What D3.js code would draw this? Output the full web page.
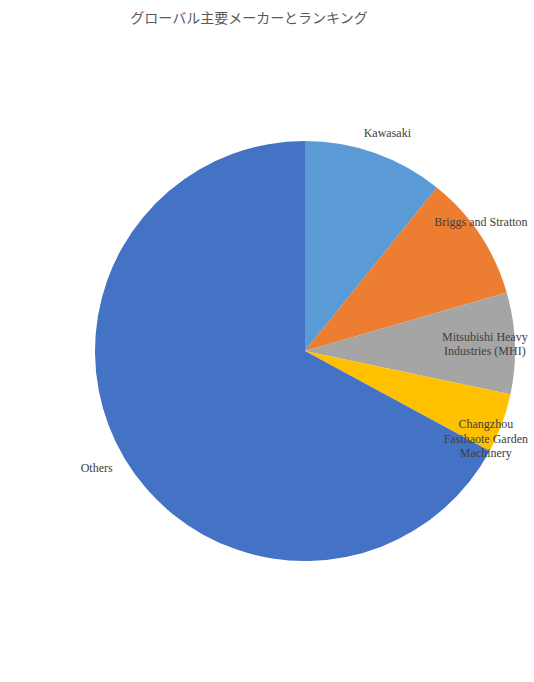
<!DOCTYPE html>
<html><head><meta charset="utf-8">
<script src="https://cdn.jsdelivr.net/npm/d3@7"></script>
<style>body{margin:0;background:#fff}</style>
</head><body>
<svg id="c" width="534" height="682"></svg>
<script>
const categories = ["Kawasaki","Briggs and Stratton","Mitsubishi Heavy Industries (MHI)","Changzhou Fasihaote Garden Machinery","Others"];
const values = [10.8, 9.7, 7.8, 4.6, 67.1];
const colors = ["#5B9BD5","#ED7D31","#A5A5A5","#FFC000","#4472C4"];
const labelLines = [["Kawasaki"],["Briggs and Stratton"],["Mitsubishi Heavy","Industries (MHI)"],["Changzhou","Fasihaote Garden","Machinery"],["Others"]];
const title = "グローバル主要メーカーとランキング";

const svg = d3.select("#c");
const cx = 305, cy = 351, R = 210;
const labelR = [233, 218, 180, 201, 239];
const labelDA = [0.022, -0.044, 0, 0.1, 0.025];

svg.append("text").attr("x", 249).attr("y", 23).attr("text-anchor","middle")
  .attr("font-family","'Noto Sans CJK JP', sans-serif").attr("font-size", 14).attr("fill","#595959")
  .text(title);

const pie = d3.pie().sort(null).value(d => d);
const arcs = pie(values);
const arc = d3.arc().innerRadius(0).outerRadius(R);
const g = svg.append("g").attr("transform", `translate(${cx},${cy})`);
g.selectAll("path").data(arcs).join("path").attr("d", arc).attr("fill", (d,i) => colors[i]);

const lg = g.selectAll("text.l").data(arcs).join("text").attr("class","l")
  .attr("font-family","'Liberation Serif', 'Times New Roman', serif").attr("font-size", 12).attr("fill","#404040")
  .attr("text-anchor","middle");
lg.each(function(d,i){
  const a = (d.startAngle + d.endAngle)/2 + labelDA[i];
  const x = labelR[i]*Math.sin(a), y = -labelR[i]*Math.cos(a);
  const lines = labelLines[i];
  const lh = 14.5;
  const t = d3.select(this);
  lines.forEach((s,k) => {
    t.append("tspan").attr("x", x).attr("y", y + (k - (lines.length-1)/2)*lh + 4).text(s);
  });
});
</script>
</body></html>
